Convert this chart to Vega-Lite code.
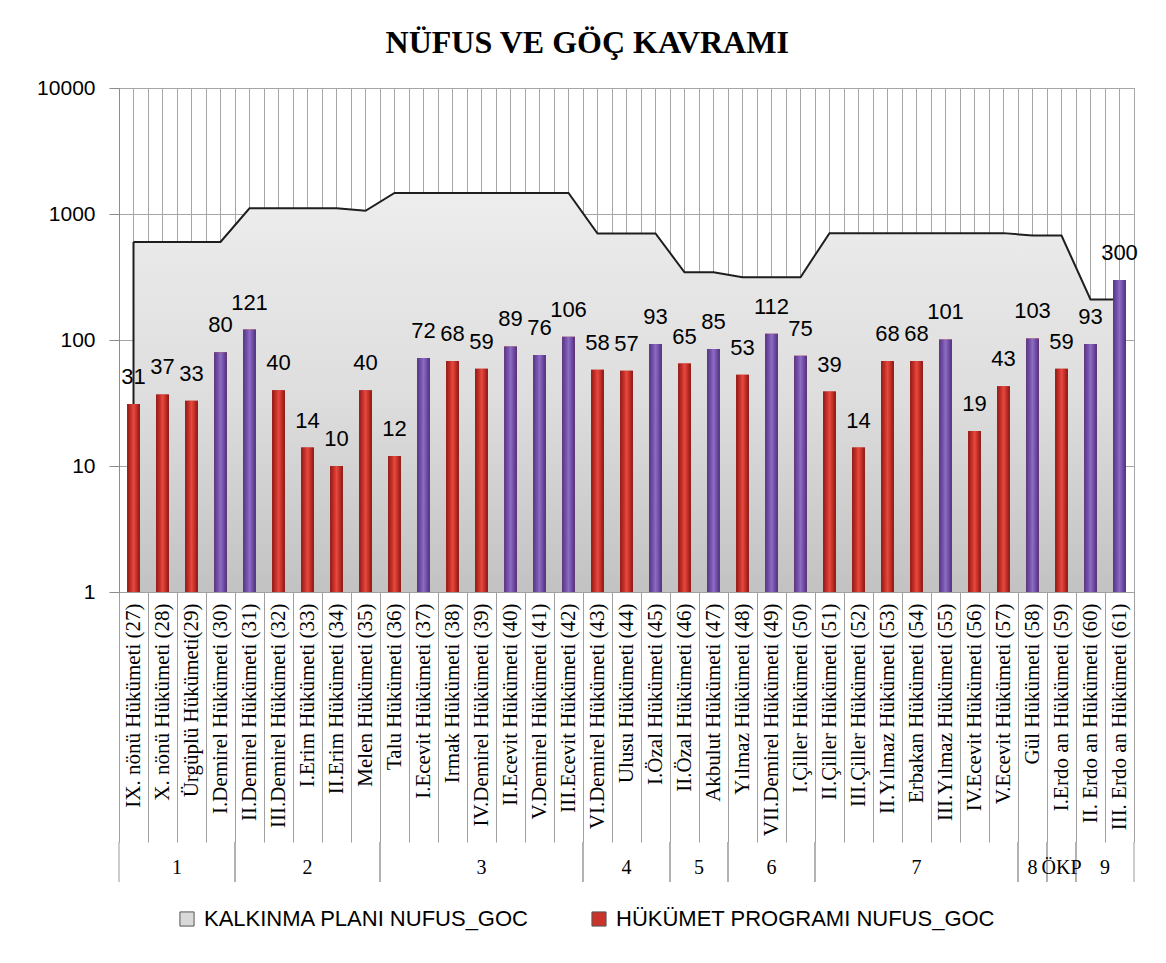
{
  "$schema": "https://vega.github.io/schema/vega-lite/v6.json",
  "background": "white",
  "padding": {"left": 36, "top": 26, "right": 20, "bottom": 10},
  "title": {"text": "NÜFUS VE GÖÇ KAVRAMI", "font": "Liberation Serif", "fontSize": 32, "fontWeight": "bold", "color": "#000000", "anchor": "middle", "frame": "bounds", "offset": 17},
  "datasets": {
    "hukumetler": [
      {"no": 27, "hukumet": "IX. nönü Hükümeti (27)", "deger": 31, "plan": 600, "vurgu": 0},
      {"no": 28, "hukumet": "X. nönü Hükümeti (28)", "deger": 37, "plan": 600, "vurgu": 0},
      {"no": 29, "hukumet": "Ürgüplü Hükümeti(29)", "deger": 33, "plan": 600, "vurgu": 0},
      {"no": 30, "hukumet": "I.Demirel Hükümeti (30)", "deger": 80, "plan": 600, "vurgu": 1},
      {"no": 31, "hukumet": "II.Demirel Hükümeti (31)", "deger": 121, "plan": 1110, "vurgu": 1},
      {"no": 32, "hukumet": "III.Demirel Hükümeti (32)", "deger": 40, "plan": 1110, "vurgu": 0},
      {"no": 33, "hukumet": "I.Erim Hükümeti (33)", "deger": 14, "plan": 1110, "vurgu": 0},
      {"no": 34, "hukumet": "II.Erim Hükümeti (34)", "deger": 10, "plan": 1110, "vurgu": 0},
      {"no": 35, "hukumet": "Melen Hükümeti (35)", "deger": 40, "plan": 1060, "vurgu": 0},
      {"no": 36, "hukumet": "Talu Hükümeti (36)", "deger": 12, "plan": 1470, "vurgu": 0},
      {"no": 37, "hukumet": "I.Ecevit Hükümeti (37)", "deger": 72, "plan": 1470, "vurgu": 1},
      {"no": 38, "hukumet": "Irmak Hükümeti (38)", "deger": 68, "plan": 1470, "vurgu": 0},
      {"no": 39, "hukumet": "IV.Demirel Hükümeti (39)", "deger": 59, "plan": 1470, "vurgu": 0},
      {"no": 40, "hukumet": "II.Ecevit Hükümeti (40)", "deger": 89, "plan": 1470, "vurgu": 1},
      {"no": 41, "hukumet": "V.Demirel Hükümeti (41)", "deger": 76, "plan": 1470, "vurgu": 1},
      {"no": 42, "hukumet": "III.Ecevit Hükümeti (42)", "deger": 106, "plan": 1470, "vurgu": 1},
      {"no": 43, "hukumet": "VI.Demirel Hükümeti (43)", "deger": 58, "plan": 700, "vurgu": 0},
      {"no": 44, "hukumet": "Ulusu Hükümeti (44)", "deger": 57, "plan": 700, "vurgu": 0},
      {"no": 45, "hukumet": "I.Özal Hükümeti (45)", "deger": 93, "plan": 700, "vurgu": 1},
      {"no": 46, "hukumet": "II.Özal Hükümeti (46)", "deger": 65, "plan": 345, "vurgu": 0},
      {"no": 47, "hukumet": "Akbulut Hükümeti (47)", "deger": 85, "plan": 345, "vurgu": 1},
      {"no": 48, "hukumet": "Yılmaz Hükümeti (48)", "deger": 53, "plan": 315, "vurgu": 0},
      {"no": 49, "hukumet": "VII.Demirel Hükümeti (49)", "deger": 112, "plan": 315, "vurgu": 1},
      {"no": 50, "hukumet": "I.Çiller Hükümeti (50)", "deger": 75, "plan": 315, "vurgu": 1},
      {"no": 51, "hukumet": "II.Çiller Hükümeti (51)", "deger": 39, "plan": 705, "vurgu": 0},
      {"no": 52, "hukumet": "III.Çiller Hükümeti (52)", "deger": 14, "plan": 705, "vurgu": 0},
      {"no": 53, "hukumet": "II.Yılmaz Hükümeti (53)", "deger": 68, "plan": 705, "vurgu": 0},
      {"no": 54, "hukumet": "Erbakan Hükümeti (54)", "deger": 68, "plan": 705, "vurgu": 0},
      {"no": 55, "hukumet": "III.Yılmaz Hükümeti (55)", "deger": 101, "plan": 705, "vurgu": 1},
      {"no": 56, "hukumet": "IV.Ecevit Hükümeti (56)", "deger": 19, "plan": 705, "vurgu": 0},
      {"no": 57, "hukumet": "V.Ecevit Hükümeti (57)", "deger": 43, "plan": 705, "vurgu": 0},
      {"no": 58, "hukumet": "Gül Hükümeti (58)", "deger": 103, "plan": 675, "vurgu": 1},
      {"no": 59, "hukumet": "I.Erdo an Hükümeti (59)", "deger": 59, "plan": 675, "vurgu": 0},
      {"no": 60, "hukumet": "II. Erdo an Hükümeti (60)", "deger": 93, "plan": 210, "vurgu": 1},
      {"no": 61, "hukumet": "III. Erdo an Hükümeti (61)", "deger": 300, "plan": 210, "vurgu": 1}
    ],
    "gruplar": [
      {"grup": "1", "bas": 27, "son": 31},
      {"grup": "2", "bas": 31, "son": 36},
      {"grup": "3", "bas": 36, "son": 43},
      {"grup": "4", "bas": 43, "son": 46},
      {"grup": "5", "bas": 46, "son": 48},
      {"grup": "6", "bas": 48, "son": 51},
      {"grup": "7", "bas": 51, "son": 58},
      {"grup": "8", "bas": 58, "son": 59},
      {"grup": "ÖKP", "bas": 59, "son": 60},
      {"grup": "9", "bas": 60, "son": 62}
    ]
  },
  "bounds": "flush",
  "spacing": 250,
  "vconcat": [
    {
      "width": 1015,
      "height": 504,
      "view": {"stroke": "#a0a0a0"},
      "data": {"name": "hukumetler"},
      "resolve": {"axis": {"x": "independent"}},
      "layer": [
        {
          "mark": {"type": "area", "interpolate": "linear"},
          "encoding": {
            "x": {"field": "hukumet", "type": "nominal", "sort": null,
              "scale": {"paddingInner": 0, "paddingOuter": 0},
              "axis": {"title": null, "grid": true, "gridColor": "#a6a6a6", "gridWidth": 1, "tickBand": "extent",
                "ticks": true, "tickSize": 250, "tickColor": "#a0a0a0", "tickWidth": 1,
                "domain": true, "domainColor": "#a0a0a0",
                "labelAngle": 270, "labelPadding": -239, "labelFont": "Liberation Serif", "labelFontSize": 21,
                "labelColor": "#000000", "labelOverlap": false, "labelLimit": 600}},
            "y": {"field": "plan", "type": "quantitative", "stack": null,
              "scale": {"type": "log", "domain": [1, 10000], "nice": false},
              "axis": {"title": null, "values": [1, 10, 100, 1000, 10000], "format": "d", "grid": true,
                "gridColor": "#a6a6a6", "gridWidth": 1, "tickSize": 10, "tickColor": "#8c8c8c",
                "domainColor": "#8c8c8c", "labelFont": "Liberation Sans", "labelFontSize": 21,
                "labelColor": "#000000", "labelPadding": 14}},
            "y2": {"datum": 1},
            "color": {"datum": "KALKINMA PLANI NUFUS_GOC",
              "scale": {"domain": ["KALKINMA PLANI NUFUS_GOC", "HÜKÜMET PROGRAMI NUFUS_GOC"], "range": ["#d9d9d9", "#c8342c"]},
              "legend": {"title": null, "orient": "none", "legendX": 57, "legendY": 820, "direction": "horizontal",
                "symbolType": "square", "symbolSize": 200, "symbolStrokeColor": "#555555", "symbolStrokeWidth": 1,
                "symbolOpacity": 1, "labelFont": "Liberation Sans", "labelFontSize": 22, "labelColor": "#000000",
                "labelLimit": 600, "columnPadding": 58, "labelOffset": 6}}
          }
        },
        {
          "mark": {"type": "area", "interpolate": "linear",
            "fill": {"gradient": "linear", "x1": 0, "y1": 0, "x2": 0, "y2": 1,
              "stops": [{"offset": 0, "color": "#ededed"}, {"offset": 0.5, "color": "#dedede"}, {"offset": 1, "color": "#c2c2c2"}]}},
          "encoding": {
            "x": {"field": "hukumet", "type": "nominal", "sort": null,
              "axis": {"orient": "top", "title": null, "grid": true, "gridColor": "#a6a6a6", "gridWidth": 1,
                "ticks": false, "labels": false, "domain": false, "tickBand": "center"}},
            "y": {"field": "plan", "type": "quantitative", "stack": null, "axis": {"title": null}},
            "y2": {"datum": 1}
          }
        },
        {
          "mark": {"type": "line", "color": "#1e1e1e", "strokeWidth": 2, "interpolate": "linear"},
          "encoding": {
            "x": {"field": "hukumet", "type": "nominal", "sort": null, "axis": null},
            "y": {"field": "plan", "type": "quantitative", "axis": {"title": null}}
          }
        },
        {
          "transform": [{"filter": "datum.no == 27"}],
          "mark": {"type": "rule", "color": "#1e1e1e", "strokeWidth": 2},
          "encoding": {
            "x": {"field": "hukumet", "type": "nominal", "sort": null, "bandPosition": 0.5, "axis": null},
            "y": {"field": "plan", "type": "quantitative", "axis": {"title": null}},
            "y2": {"datum": 1}
          }
        },
        {
          "mark": {"type": "bar", "width": {"band": 0.44}},
          "encoding": {
            "x": {"field": "hukumet", "type": "nominal", "sort": null, "axis": null},
            "y": {"field": "deger", "type": "quantitative", "axis": {"title": null}},
            "y2": {"datum": 1},
            "color": {"datum": "HÜKÜMET PROGRAMI NUFUS_GOC"}
          }
        },
        {
          "transform": [{"filter": "datum.vurgu == 0"}],
          "mark": {"type": "bar", "width": {"band": 0.44},
            "fill": {"gradient": "linear", "x1": 0, "y1": 0, "x2": 1, "y2": 0,
              "stops": [{"offset": 0, "color": "#8e1a15"}, {"offset": 0.35, "color": "#d2352d"}, {"offset": 0.5, "color": "#e14a41"}, {"offset": 0.7, "color": "#cc322b"}, {"offset": 1, "color": "#861813"}]}},
          "encoding": {
            "x": {"field": "hukumet", "type": "nominal", "sort": null, "axis": null},
            "y": {"field": "deger", "type": "quantitative", "axis": {"title": null}},
            "y2": {"datum": 1}
          }
        },
        {
          "transform": [{"filter": "datum.vurgu == 1"}],
          "mark": {"type": "bar", "width": {"band": 0.44},
            "fill": {"gradient": "linear", "x1": 0, "y1": 0, "x2": 1, "y2": 0,
              "stops": [{"offset": 0, "color": "#553384"}, {"offset": 0.35, "color": "#7b58b0"}, {"offset": 0.5, "color": "#8c6cc2"}, {"offset": 0.7, "color": "#7553aa"}, {"offset": 1, "color": "#4f2f7c"}]}},
          "encoding": {
            "x": {"field": "hukumet", "type": "nominal", "sort": null, "axis": null},
            "y": {"field": "deger", "type": "quantitative", "axis": {"title": null}},
            "y2": {"datum": 1}
          }
        },
        {
          "mark": {"type": "text", "font": "Liberation Sans", "fontSize": 22, "color": "#000000", "baseline": "middle", "dy": -27},
          "encoding": {
            "x": {"field": "hukumet", "type": "nominal", "sort": null, "axis": null},
            "y": {"field": "deger", "type": "quantitative", "axis": {"title": null}},
            "text": {"field": "deger", "type": "quantitative"}
          }
        }
      ]
    },
    {
      "width": 1015,
      "height": 40,
      "data": {"name": "gruplar"},
      "transform": [{"calculate": "(datum.bas + datum.son) / 2", "as": "orta"}],
      "layer": [
        {
          "mark": {"type": "rule", "color": "#999999", "strokeWidth": 1},
          "encoding": {
            "x": {"field": "bas", "type": "quantitative", "scale": {"domain": [27, 62], "nice": false, "zero": false}, "axis": null}
          }
        },
        {
          "mark": {"type": "rule", "color": "#999999", "strokeWidth": 1},
          "encoding": {
            "x": {"field": "son", "type": "quantitative", "axis": null}
          }
        },
        {
          "mark": {"type": "text", "font": "Liberation Serif", "fontSize": 20, "color": "#000000", "dy": 6},
          "encoding": {
            "x": {"field": "orta", "type": "quantitative", "axis": null},
            "text": {"field": "grup", "type": "nominal"}
          }
        }
      ]
    }
  ],
  "config": {
    "view": {"stroke": null},
    "axis": {"labelFont": "Liberation Sans"}
  }
}
